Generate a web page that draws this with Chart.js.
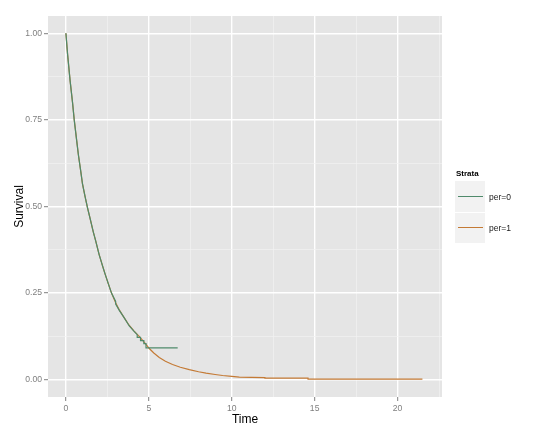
<!DOCTYPE html>
<html>
<head>
<meta charset="utf-8">
<script src="https://cdn.jsdelivr.net/npm/chart.js@4/dist/chart.umd.min.js"></script>
<style>
  html, body { margin: 0; padding: 0; background: #ffffff; }
  #wrap { position: relative; width: 540px; height: 435px; overflow: hidden; }
  #c { position: absolute; left: 0; top: 0; }
  .lg { position: absolute; font-family: "Liberation Sans", Arial, sans-serif; white-space: nowrap; }
</style>
</head>
<body>
<div id="wrap">
  <canvas id="c" width="540" height="435"></canvas>
  <div id="legend"></div>
</div>
<script>
// ---- data ----
const seriesNames = ['per=0', 'per=1'];
const legendTitle = 'Strata';
const xTitle = 'Time';
const yTitle = 'Survival';

const timeP0 = [0, 0.1, 0.25, 0.4, 0.5, 0.65, 0.75, 0.9, 1.0, 1.15, 1.3, 1.45, 1.65, 1.8, 2.0, 2.2, 2.35, 2.55, 2.75, 3.0, 3.0, 3.22, 3.5, 3.82, 4.1, 4.3, 4.3, 4.5, 4.5, 4.7, 4.7, 4.83, 4.83, 6.74];
const survP0 = [1, 0.94, 0.864, 0.8, 0.75, 0.69, 0.65, 0.6, 0.565, 0.53, 0.497, 0.467, 0.427, 0.4, 0.362, 0.33, 0.307, 0.278, 0.25, 0.226, 0.218, 0.2, 0.18, 0.155, 0.14, 0.13, 0.122, 0.122, 0.113, 0.113, 0.104, 0.104, 0.092, 0.092];

const timeP1 = [0, 0.1, 0.25, 0.4, 0.5, 0.65, 0.75, 0.9, 1.0, 1.15, 1.3, 1.45, 1.65, 1.8, 2.0, 2.2, 2.35, 2.55, 2.75, 3.0, 3.2, 3.5, 3.8, 4.1, 4.42, 4.83, 5.03, 5.3, 5.63, 6.0, 6.43, 6.9, 7.44, 8.0, 8.45, 9.0, 9.45, 10.0, 10.46, 11.2, 12.0, 12.0, 14.6, 14.6, 21.5];
const survP1 = [1, 0.94, 0.865, 0.8, 0.752, 0.69, 0.65, 0.6, 0.565, 0.53, 0.497, 0.467, 0.427, 0.4, 0.362, 0.33, 0.307, 0.278, 0.25, 0.222, 0.203, 0.18, 0.158, 0.141, 0.125, 0.102, 0.09, 0.077, 0.064, 0.053, 0.044, 0.036, 0.029, 0.023, 0.019, 0.015, 0.012, 0.0095, 0.0075, 0.0065, 0.0058, 0.0046, 0.0046, 0.0017, 0.0017];

const xMajorTicks = [0, 5, 10, 15, 20];
const xMinorTicks = [2.5, 7.5, 12.5, 17.5, 22.5];
const yMajorTicks = [0, 0.25, 0.5, 0.75, 1];
const yMinorTicks = [0.125, 0.375, 0.625, 0.875];
const yTickLabels = ['0.00', '0.25', '0.50', '0.75', '1.00'];
const xTickLabels = ['0', '5', '10', '15', '20'];

// ---- styles ----
const seriesColors = ['#4F8A6B', '#C47A35'];
const FONT = '"Liberation Sans", Arial, sans-serif';

function pts(ts, ss) { return ts.map((t, i) => ({ x: t, y: ss[i] })); }

const panelBg = {
  id: 'panelBg',
  beforeDraw(chart) {
    const a = chart.chartArea, ctx = chart.ctx;
    ctx.save();
    ctx.fillStyle = '#E5E5E5';
    ctx.fillRect(a.left, a.top, a.right - a.left, a.bottom - a.top);
    ctx.restore();
  }
};

function makeTicks(major, minor) {
  return function (scale) {
    scale.ticks = major.concat(minor).sort((a, b) => a - b).map(v => ({ value: v }));
  };
}
function isMajor(list, v) { return list.some(m => Math.abs(m - v) < 1e-9); }

new Chart(document.getElementById('c'), {
  type: 'line',
  data: {
    datasets: [
      { label: seriesNames[0], data: pts(timeP0, survP0), borderColor: seriesColors[0], borderWidth: 1.2, pointRadius: 0, tension: 0, fill: false },
      { label: seriesNames[1], data: pts(timeP1, survP1), borderColor: seriesColors[1], borderWidth: 1.2, pointRadius: 0, tension: 0, fill: false }
    ]
  },
  options: {
    responsive: false,
    animation: false,
    layout: { padding: { left: 0, top: 16, right: 98, bottom: 0 } },
    plugins: { legend: { display: false }, tooltip: { enabled: false } },
    scales: {
      x: {
        type: 'linear', min: -1.08, max: 22.68,
        afterBuildTicks: makeTicks(xMajorTicks, xMinorTicks),
        afterFit(s) { s.height = 38; },
        border: { display: false },
        grid: {
          color: c => isMajor(xMajorTicks, c.tick.value) ? '#FFFFFF' : '#F2F2F2',
          lineWidth: c => isMajor(xMajorTicks, c.tick.value) ? 1.4 : 0.7,
          tickColor: c => isMajor(xMajorTicks, c.tick.value) ? '#7F7F7F' : 'rgba(0,0,0,0)',
          tickLength: 4, tickWidth: 1
        },
        ticks: {
          autoSkip: false, maxRotation: 0, padding: 2, color: '#7F7F7F',
          font: { family: FONT, size: 8.6 },
          callback: v => { const i = xMajorTicks.findIndex(m => Math.abs(m - v) < 1e-9); return i >= 0 ? xTickLabels[i] : ''; }
        },
        title: { display: true, text: xTitle, color: '#000', font: { family: FONT, size: 12 }, padding: { top: 0, bottom: 8 } }
      },
      y: {
        type: 'linear', min: -0.05, max: 1.05,
        afterBuildTicks: makeTicks(yMajorTicks, yMinorTicks),
        afterFit(s) { s.width = 48; },
        border: { display: false },
        grid: {
          color: c => isMajor(yMajorTicks, c.tick.value) ? '#FFFFFF' : '#F2F2F2',
          lineWidth: c => isMajor(yMajorTicks, c.tick.value) ? 1.4 : 0.7,
          tickColor: c => isMajor(yMajorTicks, c.tick.value) ? '#7F7F7F' : 'rgba(0,0,0,0)',
          tickLength: 4, tickWidth: 1
        },
        ticks: {
          autoSkip: false, padding: 2, color: '#7F7F7F',
          font: { family: FONT, size: 8.6 },
          callback: v => { const i = yMajorTicks.findIndex(m => Math.abs(m - v) < 1e-9); return i >= 0 ? yTickLabels[i] : ''; }
        },
        title: { display: true, text: yTitle, color: '#000', font: { family: FONT, size: 12 }, padding: { top: 12, bottom: 0 } }
      }
    }
  },
  plugins: [panelBg]
});

// ---- legend (HTML, built from series arrays) ----
(function () {
  const lg = document.getElementById('legend');
  const t = document.createElement('div');
  t.className = 'lg';
  t.textContent = legendTitle;
  Object.assign(t.style, { left: '456px', top: '169px', fontSize: '8px', fontWeight: 'bold', lineHeight: '10px', color: '#000' });
  lg.appendChild(t);
  seriesNames.forEach((name, i) => {
    const top = 181 + i * 31;
    const key = document.createElement('div');
    Object.assign(key.style, { position: 'absolute', left: '455px', top: top + 'px', width: '30px', height: '31px', background: '#F2F2F2', boxSizing: 'border-box', borderTop: i ? '1px solid #fff' : 'none' });
    lg.appendChild(key);
    const ln = document.createElement('div');
    Object.assign(ln.style, { position: 'absolute', left: '458px', top: (top + 15) + 'px', width: '25px', height: '0', borderTop: '1.5px solid ' + seriesColors[i] });
    lg.appendChild(ln);
    const lab = document.createElement('div');
    lab.className = 'lg';
    lab.textContent = name;
    Object.assign(lab.style, { left: '489px', top: (top + 11) + 'px', fontSize: '8.5px', lineHeight: '10px', color: '#1a1a1a' });
    lg.appendChild(lab);
  });
})();
</script>
</body>
</html>
